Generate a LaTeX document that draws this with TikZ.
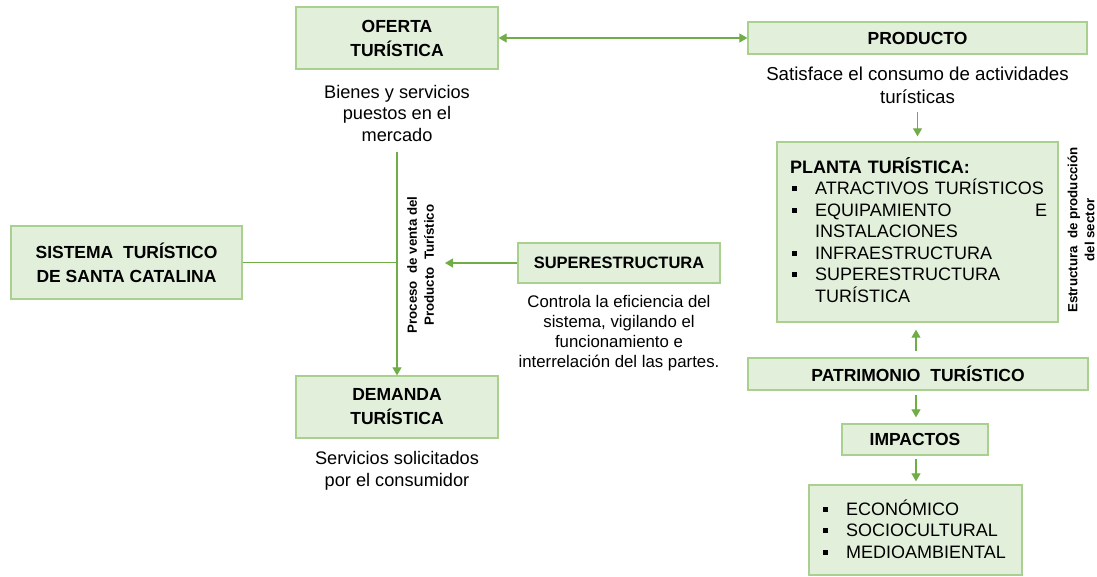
\documentclass[tikz,border=0pt]{standalone}
\usepackage{fontspec}
\setmainfont{Liberation Sans}
\usetikzlibrary{arrows.meta,calc}
\definecolor{boxfill}{HTML}{E2EFDA}
\definecolor{boxdraw}{HTML}{A9D08E}
\definecolor{linegreen}{HTML}{70AD47}
\newcommand\sqb{\makebox[23pt][l]{\rule[3.5pt]{5pt}{5pt}}}
\tikzset{
  gbox/.style={draw=boxdraw, fill=boxfill, line width=1.3pt, inner sep=0pt, font=\fontsize{17.5}{24}\selectfont\bfseries, align=center},
  txt/.style={inner sep=0pt, align=center, font=\fontsize{18.2}{21.5}\selectfont},
  rot/.style={inner sep=0pt, align=center, rotate=90, font=\fontsize{13.3}{17}\selectfont\bfseries},
  conn/.style={draw=linegreen, line width=1.1pt},
  arr/.style={conn, -{Triangle[length=8pt,width=9pt]}, color=linegreen},
  darr/.style={conn, {Triangle[length=8pt,width=9pt]}-{Triangle[length=8pt,width=9pt]}, color=linegreen}
}
\begin{document}
\begin{tikzpicture}[x=1pt,y=-1pt]
\useasboundingbox (0,0) rectangle (1097,576);
% boxes
\node[gbox, minimum width=202pt, minimum height=62pt] (oferta) at (397,38) {OFERTA\\TURÍSTICA};
\node[gbox, minimum width=339pt, minimum height=32pt] (producto) at (917.5,38) {PRODUCTO};
\node[gbox, minimum width=281pt, minimum height=180pt] (planta) at (917.5,232) {};
\node[gbox, minimum width=340pt, minimum height=32pt] (patrimonio) at (918,374) {PATRIMONIO\ \ TURÍSTICO};
\node[gbox, minimum width=146pt, minimum height=31pt] (impactos) at (915,439.5) {IMPACTOS};
\node[gbox, minimum width=213pt, minimum height=90pt] (impbox) at (915.5,530) {};
\node[gbox, minimum width=231pt, minimum height=73pt] (sistema) at (126.5,262.5) {SISTEMA\ \ TURÍSTICO\\DE SANTA CATALINA};
\node[gbox, minimum width=202pt, minimum height=62pt] (demanda) at (397,407) {DEMANDA\\TURÍSTICA};
\node[gbox, minimum width=202pt, minimum height=40pt, font=\fontsize{16.5}{20}\selectfont\bfseries] (super) at (619,263) {SUPERESTRUCTURA};
% texts
\node[txt] (bienes) at (397,113) {Bienes y servicios\\puestos en el\\mercado};
\node[txt, font=\fontsize{18.7}{23}\selectfont] (satisface) at (917.5,85) {Satisface el consumo de actividades\\turísticas};
\node[txt] (servicios) at (397,471) {Servicios solicitados\\por el consumidor};
\node[txt, font=\fontsize{16.8}{20}\selectfont] (controla) at (619,333) {Controla la eficiencia del\\sistema, vigilando el\\funcionamiento e\\interrelación del las partes.};
\node[rot] (proceso) at (420.5,265) {Proceso\ \ de venta del\\Producto\ \ Turístico};
\node[rot] (estructura) at (1081,230) {Estructura\ \ de producción\\del sector};
\node[inner sep=0pt, anchor=base west, align=left, text width=260pt, font=\fontsize{18}{21.5}\selectfont] (plantatext) at (790,173)
{\textbf{PLANTA TURÍSTICA:}\\
\hspace*{2pt}\sqb ATRACTIVOS TURÍSTICOS\\
\hspace*{2pt}\sqb \makebox[232pt][l]{EQUIPAMIENTO\hfill E}\\
\hspace*{25pt}INSTALACIONES\\
\hspace*{2pt}\sqb INFRAESTRUCTURA\\
\hspace*{2pt}\sqb SUPERESTRUCTURA\\
\hspace*{25pt}TURÍSTICA};
\node[inner sep=0pt, anchor=base west, align=left, text width=180pt, font=\fontsize{18}{21.5}\selectfont] (imptext) at (823,515)
{\sqb ECONÓMICO\\
\sqb SOCIOCULTURAL\\
\sqb MEDIOAMBIENTAL};
% connectors
\coordinate (vtop) at (397,152);
\coordinate (join) at (397,262.5);
\coordinate (superend) at (445,263);
\draw[darr] (oferta.east) -- (producto.west);
\draw[arr] (vtop) -- (demanda.north);
\draw[conn] (sistema.east) -- (join);
\draw[arr] (super.west) -- (superend);
\draw[arr, shorten <=8pt, shorten >=5pt] (satisface.south) -- (satisface.south |- planta.north);
\draw[arr, shorten <=6pt, shorten >=7pt] (patrimonio.north -| 916,0) -- (planta.south -| 916,0);
\draw[arr, shorten <=4pt, shorten >=6pt] (patrimonio.south -| 916,0) -- (impactos.north -| 916,0);
\draw[arr, shorten <=3pt, shorten >=3pt] (impactos.south -| 916,0) -- (impbox.north -| 916,0);
\end{tikzpicture}
\end{document}
